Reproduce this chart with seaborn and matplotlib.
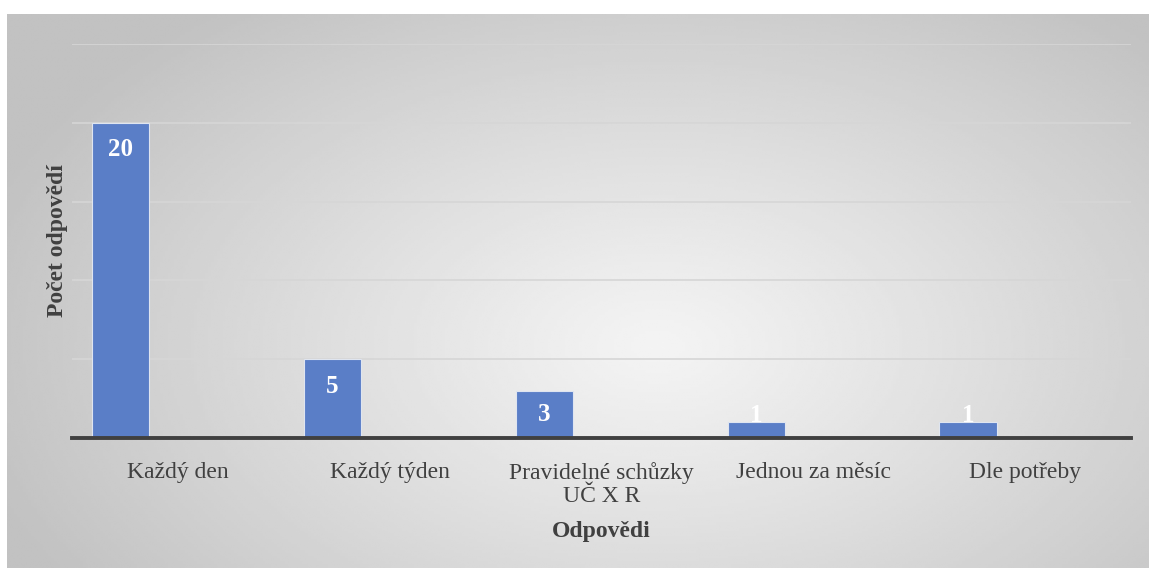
import numpy as np
import pandas as pd
import matplotlib.pyplot as plt
import seaborn as sns

# data
categories = ["Každý den", "Každý týden", "Pravidelné schůzky\nUČ X R",
              "Jednou za měsíc", "Dle potřeby"]
counts = [20, 5, 3, 1, 1]
series_order = ["Počet", "_b", "_c"]

df = pd.DataFrame({"Odpovědi": categories, "Počet odpovědí": counts,
                   "serie": "Počet"})

sns.set_theme(style="white")
plt.rcParams['font.family'] = ['Liberation Serif', 'DejaVu Serif']
text_col = "#404040"
bar_col = "#5a7ec7"

W, H = 1149, 569
fig = plt.figure(figsize=(W / 100, H / 100), dpi=100)
fig.patch.set_facecolor("white")

# radial grey gradient background of the chart area
bg = fig.add_axes([7 / W, 1 / H, 1142 / W, 554 / H], zorder=-5)
gx, gy = np.meshgrid(np.linspace(0, 1, 400), np.linspace(0, 1, 200))
d = np.sqrt(((gx - 0.57) / 0.62) ** 2 + ((gy - 0.6) / 0.78) ** 2)
d = np.clip(d, 0, 1) ** 1.1
shade = 0.955 - (0.955 - 0.76) * d
bg.imshow(shade, cmap="gray", vmin=0, vmax=1, aspect="auto",
          extent=[0, 1, 0, 1], origin="upper", interpolation="bilinear")
bg.axis("off")

ax = fig.add_axes([72 / W, 131 / H, 1059 / W, 394 / H])
ax.set_facecolor("none")

sns.barplot(data=df, x="Odpovědi", y="Počet odpovědí", hue="serie",
            hue_order=series_order, palette=[bar_col, bar_col, bar_col],
            saturation=1, width=0.81, dodge=True, legend=False, ax=ax,
            edgecolor="#dfe5f0", linewidth=0.8, zorder=3)

ax.set_ylim(0, 25)
ax.set_yticks([0, 5, 10, 15, 20, 25])
ax.yaxis.grid(True, color="#d6d6d6", linewidth=1.2, zorder=0)
ax.set_yticklabels([])
ax.tick_params(axis="y", length=0)
ax.tick_params(axis="x", length=0, pad=17, labelsize=17, colors=text_col)
for lbl in ax.get_xticklabels():
    lbl.set_linespacing(1.15)
for s in ["left", "right", "top"]:
    ax.spines[s].set_visible(False)
ax.spines["bottom"].set_color(text_col)
ax.spines["bottom"].set_linewidth(2.8)
ax.spines["bottom"].set_zorder(4)

ax.set_xlabel("Odpovědi", fontsize=17, fontweight="bold", color=text_col,
              labelpad=10)
ax.set_ylabel("Počet odpovědí", fontsize=17, fontweight="bold",
              color=text_col)
ax.yaxis.set_label_coords(-0.004, 0.5)

# value labels inside the end of each bar
fig.canvas.draw()
for p in ax.patches:
    h = p.get_height()
    if not np.isfinite(h) or h <= 0:
        continue
    x0, y0 = ax.transData.transform((p.get_x(), 0))
    x1, y1 = ax.transData.transform((p.get_x(), h))
    hpx = y1 - y0
    if hpx > 54:
        off = -27
    elif hpx > 30:
        off = -hpx / 2
    else:
        off = 7
    ax.annotate(f"{int(h)}", (p.get_x() + p.get_width() / 2, h),
                xytext=(0, off * 0.72), textcoords="offset points",
                ha="center", va="center", color="white", fontsize=18,
                fontweight="bold", zorder=5)

fig.savefig("out.png", dpi=100)
